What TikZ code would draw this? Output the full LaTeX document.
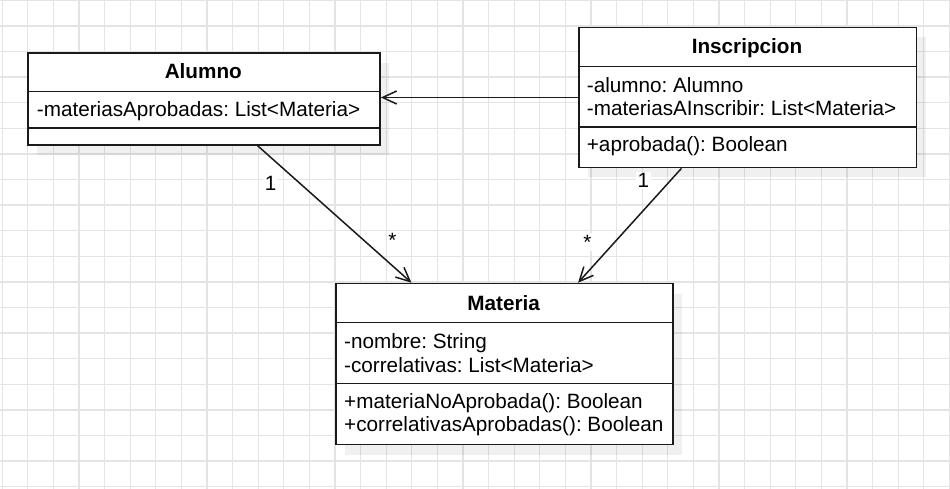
\documentclass[tikz,border=0pt]{standalone}
\usepackage{fontspec}
\setmainfont{Liberation Sans}
\usetikzlibrary{arrows.meta,shadows}
\definecolor{gridgray}{HTML}{E4E4E4}
\definecolor{linecol}{HTML}{1A1A1A}
\frenchspacing
\begin{document}
\begin{tikzpicture}[x=1pt,y=-1pt,
  gridline/.style={draw=gridgray, line width=1.3pt},
  umlbox/.style={draw=linecol, line width=1.6pt, fill=white, inner sep=0pt, anchor=north west,
    drop shadow={shadow xshift=9pt, shadow yshift=-10pt, shadow scale=1, opacity=0.06, fill=black}},
  divider/.style={draw=linecol, line width=1.6pt},
  txt/.style={anchor=base west, inner sep=0pt, font=\fontsize{20.7}{24}\selectfont},
  ttl/.style={anchor=base, inner sep=0pt, font=\fontsize{20.7}{24}\selectfont\bfseries},
  lbl/.style={anchor=base, inner sep=1.5pt, fill=white, font=\fontsize{20.7}{24}\selectfont},
  assoc/.style={draw=linecol, line width=1.5pt, -{Straight Barb[length=14pt,width=13pt]}}
]
\useasboundingbox (0,0) rectangle (950,489);
\fill[white] (0,0) rectangle (950,489);
% grid
\foreach \i in {0,...,37} \draw[gridline] ({2.2+25.6*\i},0) -- ({2.2+25.6*\i},489);
\foreach \j in {0,...,19} \draw[gridline] (0,{0.3+25.6*\j}) -- (950,{0.3+25.6*\j});

% Alumno
\node[umlbox, minimum width=352pt, minimum height=91.7pt] (alumno) at (27.3,52.3) {};
\draw[divider] (27.3,91.7) -- (379.3,91.7);
\draw[divider] (27.3,128.3) -- (379.3,128.3);
\node[ttl] (alumnoT) at (203.3,79) {Alumno};
\node[txt] (alumnoA1) at (36.7,116.7) {-materiasAprobadas: List<Materia>};

% Inscripcion
\node[umlbox, minimum width=337.4pt, minimum height=140pt] (insc) at (578.3,26.7) {};
\draw[divider] (578.3,66.7) -- (915.7,66.7);
\draw[divider] (578.3,127.3) -- (915.7,127.3);
\node[ttl] (inscT) at (747,54) {Inscripcion};
\node[txt] (inscA1) at (586.7,92.4) {-alumno: Alumno};
\node[txt] (inscA2) at (586.7,115.9) {-materiasAInscribir: List<Materia>};
\node[txt] (inscM1) at (586.7,151.4) {+aprobada(): Boolean};

% Materia
\node[umlbox, minimum width=337.3pt, minimum height=161pt] (materia) at (335,282.7) {};
\draw[divider] (335,322.3) -- (672.3,322.3);
\draw[divider] (335,383.3) -- (672.3,383.3);
\node[ttl] (materiaT) at (503.7,310.7) {Materia};
\node[txt] (materiaA1) at (344,348) {-nombre: String};
\node[txt] (materiaA2) at (344,372.2) {-correlativas: List<Materia>};
\node[txt] (materiaM1) at (344,408) {+materiaNoAprobada(): Boolean};
\node[txt] (materiaM2) at (344,431.9) {+correlativasAprobadas(): Boolean};

% connectors
\draw[assoc] (insc.west) -- (alumno.east |- insc.west);
\draw[assoc] ([xshift=53.4pt]alumno.south) -- ([xshift=-93pt]materia.north);
\draw[assoc] ([xshift=-66.3pt]insc.south) -- ([xshift=73.6pt]materia.north);

% multiplicities
\node[lbl] (m1) at (270.7,190.7) {1};
\node[lbl] (m2) at (392.3,247.8) {*};
\node[lbl] (m3) at (643.3,187.4) {1};
\node[lbl] (m4) at (587.3,249) {*};
\end{tikzpicture}
\end{document}
